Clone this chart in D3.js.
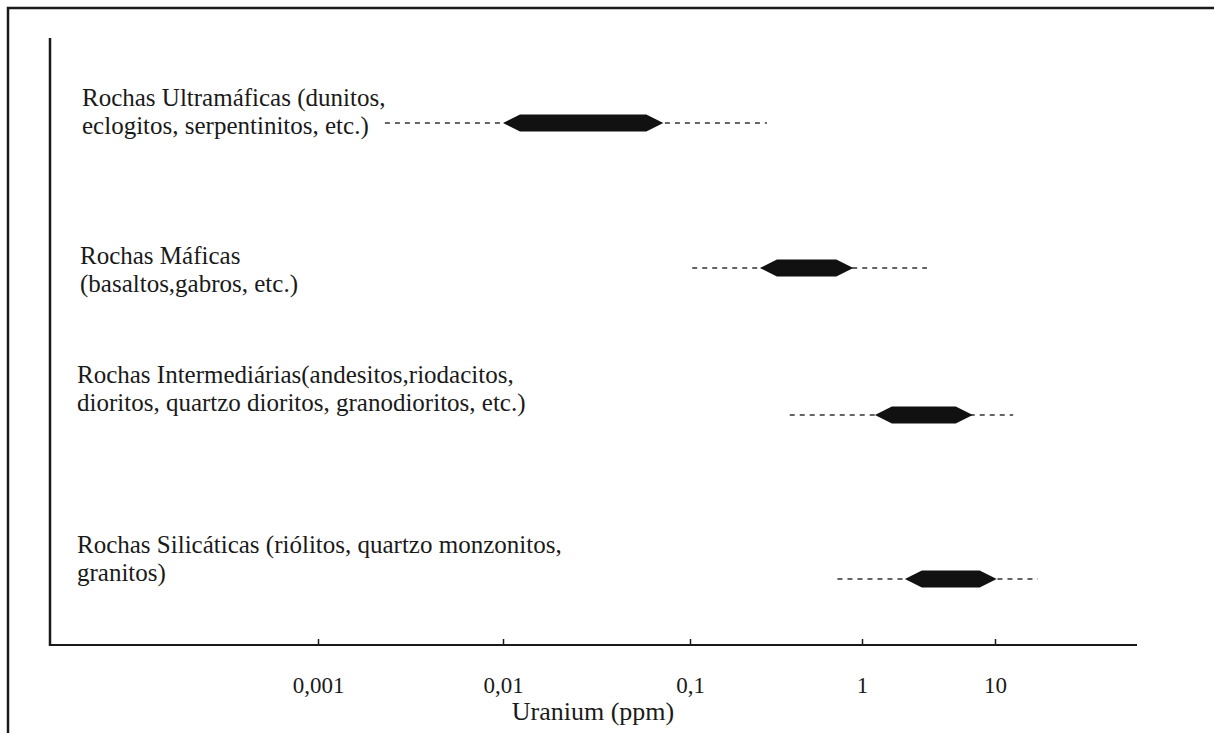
<!DOCTYPE html>
<html>
<head>
<meta charset="utf-8">
<script src="https://cdn.jsdelivr.net/npm/d3@7"></script>
<style>
  body { margin: 0; background: #fff; }
  text { font-family: "Liberation Serif", "Times New Roman", serif; fill: #1a1a1a; }
</style>
</head>
<body>
<script>
const width = 1214;
const height = 733;

// rock groups, label lines
const categories = ["ultramafic", "mafic", "intermediate", "silicic"];
const labels = [
  ["Rochas Ultramáficas (dunitos,", "eclogitos, serpentinitos, etc.)"],
  ["Rochas Máficas", "(basaltos,gabros, etc.)"],
  ["Rochas Intermediárias(andesitos,riodacitos,", "dioritos, quartzo dioritos, granodioritos, etc.)"],
  ["Rochas Silicáticas (riólitos, quartzo monzonitos,", "granitos)"]
];

// uranium (ppm): full range (dashed) and common range (solid)
const rangeMin = [0.0023, 0.103, 0.38, 0.72];
const commonLow = [0.010, 0.255, 1.25, 2.1];
const commonHigh = [0.072, 0.89, 6.8, 10.3];
const rangeMax = [0.28, 3.08, 13.7, 21];

const tickValues = [0.001, 0.01, 0.1, 1, 10];
const tickLabels = ["0,001", "0,01", "0,1", "1", "10"];

const svg = d3.select("body")
  .append("svg")
  .attr("width", width)
  .attr("height", height);

// outer frame (only top and left edges show in the crop)
svg.append("path")
  .attr("d", `M8,${height} V8 H${width}`)
  .attr("fill", "none")
  .attr("stroke", "#1a1a1a")
  .attr("stroke-width", 2.5);

const plotLeft = 50, plotRight = 1137, plotTop = 38, plotBottom = 645;

// the original drawing has uneven decades, so use a piecewise log scale
const x = d3.scaleLog()
  .domain(tickValues)
  .range([318, 503, 690, 862, 995]);

const y = d3.scaleOrdinal()
  .domain(categories)
  .range([123, 268, 415, 579]);

// axes lines
svg.append("line")
  .attr("x1", plotLeft).attr("x2", plotLeft)
  .attr("y1", plotTop).attr("y2", plotBottom + 1)
  .attr("stroke", "#1a1a1a")
  .attr("stroke-width", 2.5);

svg.append("line")
  .attr("x1", plotLeft).attr("x2", plotRight)
  .attr("y1", plotBottom).attr("y2", plotBottom)
  .attr("stroke", "#1a1a1a")
  .attr("stroke-width", 2);

const xAxis = d3.axisBottom(x)
  .tickValues(tickValues)
  .tickFormat((d, i) => tickLabels[i])
  .tickSizeInner(-6)
  .tickSizeOuter(0)
  .tickPadding(32);

const gx = svg.append("g")
  .attr("transform", `translate(0,${plotBottom})`)
  .call(xAxis);

gx.select(".domain").remove();
gx.selectAll(".tick line").attr("stroke", "#1a1a1a").attr("stroke-width", 1.5);
gx.selectAll(".tick text")
  .attr("font-family", "Liberation Serif, serif")
  .attr("font-size", 23)
  .attr("fill", "#1a1a1a");

svg.append("text")
  .attr("x", 593)
  .attr("y", 720)
  .attr("text-anchor", "middle")
  .attr("font-size", 26)
  .text("Uranium (ppm)");

const rows = categories.map((c, i) => ({
  cat: c,
  lines: labels[i],
  min: rangeMin[i],
  lo: commonLow[i],
  hi: commonHigh[i],
  max: rangeMax[i]
}));

// labels
const labelX = [82, 80, 77, 77];
const labelDy = [-17, -4, -32, -26];
rows.forEach((d, i) => {
  const t = svg.append("text")
    .attr("x", labelX[i])
    .attr("y", y(d.cat) + labelDy[i])
    .attr("font-size", 25);
  d.lines.forEach((line, j) => {
    t.append("tspan")
      .attr("x", labelX[i])
      .attr("dy", j === 0 ? 0 : 28)
      .text(line);
  });
});

// dashed full range
svg.append("g")
  .selectAll("line")
  .data(rows)
  .enter()
  .append("line")
  .attr("x1", d => x(d.min))
  .attr("x2", d => x(d.max))
  .attr("y1", d => y(d.cat))
  .attr("y2", d => y(d.cat))
  .attr("stroke", "#333")
  .attr("stroke-width", 1.6)
  .attr("stroke-dasharray", "5,5");

// solid common range with tapered ends
const halfH = 8.5, taper = 17;
svg.append("g")
  .selectAll("path")
  .data(rows)
  .enter()
  .append("path")
  .attr("fill", "#111")
  .attr("d", d => {
    const x0 = x(d.lo), x1 = x(d.hi), cy = y(d.cat);
    const t = Math.min(taper, (x1 - x0) / 3);
    return `M${x0},${cy} L${x0 + t},${cy - halfH} L${x1 - t},${cy - halfH} L${x1},${cy} L${x1 - t},${cy + halfH} L${x0 + t},${cy + halfH} Z`;
  });
</script>
</body>
</html>
